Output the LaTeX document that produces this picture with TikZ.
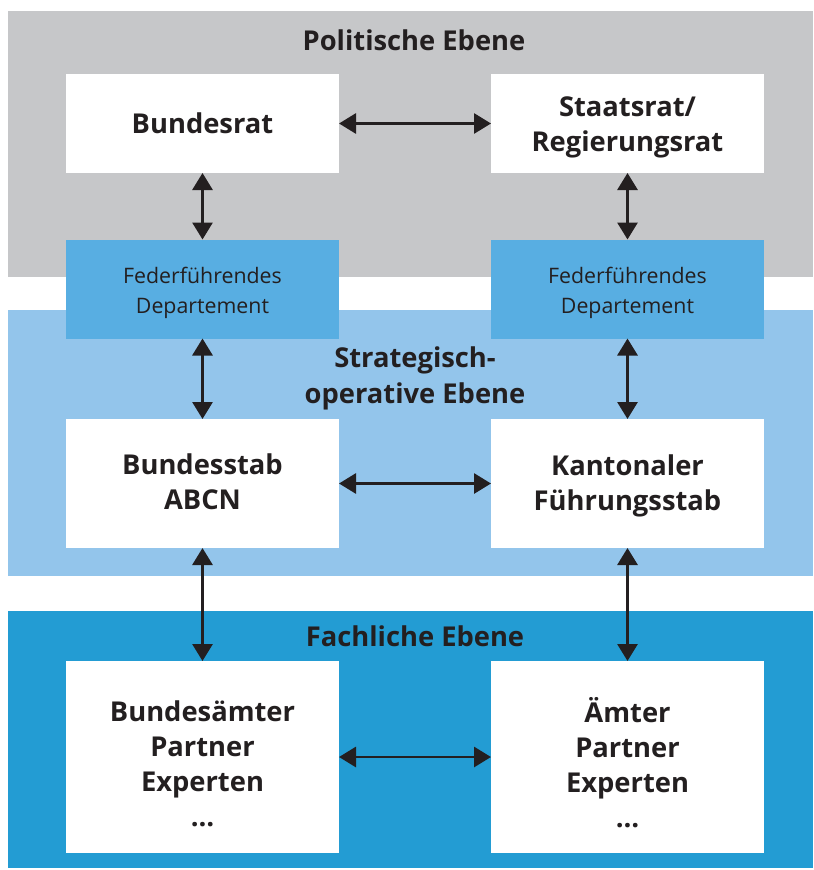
\documentclass[tikz,border=0pt]{standalone}
\usepackage{fontspec}
\setmainfont{Open Sans}
\usetikzlibrary{arrows.meta}
\definecolor{grayband}{HTML}{C6C7C9}
\definecolor{lightband}{HTML}{93C5EB}
\definecolor{darkband}{HTML}{239CD3}
\definecolor{midbox}{HTML}{58AEE2}
\definecolor{ink}{HTML}{231F20}
\tikzset{
  wbox/.style={fill=white, draw=none, inner sep=0pt, outer sep=0pt, minimum width=204.75pt},
  fedbox/.style={fill=midbox, draw=none, inner sep=0pt, outer sep=0pt, minimum width=204.75pt, minimum height=74.25pt},
  btext/.style={align=center, text=ink, inner sep=0pt, font=\fontsize{20.5}{26.25}\selectfont\bfseries},
  ftext/.style={align=center, text=ink, inner sep=0pt, font=\fontsize{16}{22.5}\selectfont},
  bandlabel/.style={align=center, text=ink, font=\fontsize{20.5}{27}\selectfont\bfseries, inner sep=0pt},
  arr/.style={{Triangle[length=12.75pt,width=15pt]}-{Triangle[length=12.75pt,width=15pt]}, line width=2.2pt, draw=ink, fill=ink}
}
\begin{document}
\begin{tikzpicture}[x=0.75pt,y=-0.75pt]
\useasboundingbox (0,0) rectangle (813,870);
\fill[grayband] (8,11) rectangle (813,277);
\fill[lightband] (8,310) rectangle (813,576);
\fill[darkband] (8,611) rectangle (813,868);

\node[bandlabel] (tpol) at (414,40) {Politische Ebene};
\node[bandlabel] (tstr) at (415,378.5) {Strategisch-\\operative Ebene};
\node[bandlabel] (tfach) at (415,636) {Fachliche Ebene};

\node[wbox, minimum height=74.25pt] (bundesrat) at (202.5,123.5) {};
\node[wbox, minimum height=74.25pt] (staatsrat) at (627.5,123.5) {};
\node[fedbox] (fedl) at (202.5,289) {};
\node[fedbox] (fedr) at (627.5,289) {};
\node[wbox, minimum height=96.75pt] (bstab) at (202.5,483.5) {};
\node[wbox, minimum height=96.75pt] (kstab) at (627.5,483.5) {};
\node[wbox, minimum height=144pt] (baemter) at (202.5,757) {};
\node[wbox, minimum height=144pt] (aemter) at (627.5,757) {};

\node[btext] (t-bundesrat) at (202.5,123) {Bundesrat};
\node[btext] (t-staatsrat) at (627.5,127) {Staatsrat/\\Regierungsrat};
\node[ftext] (t-fedl) at (202.5,293) {Federführendes\\Departement};
\node[ftext] (t-fedr) at (627.5,293) {Federführendes\\Departement};
\node[btext] (t-bstab) at (202.5,481.5) {Bundesstab\\ABCN};
\node[btext] (t-kstab) at (627.5,485.5) {Kantonaler\\Führungsstab};
\node[btext] (t-baemter) at (202.5,764) {Bundesämter\\Partner\\Experten\\…};
\node[btext] (t-aemter) at (627.5,763) {Ämter\\Partner\\Experten\\…};

\draw[arr] (bundesrat) -- (staatsrat);
\draw[arr] (bstab) -- (kstab);
\draw[arr] (baemter) -- (aemter);
\draw[arr] (bundesrat) -- (fedl);
\draw[arr] (staatsrat) -- (fedr);
\draw[arr] (fedl) -- (bstab);
\draw[arr] (fedr) -- (kstab);
\draw[arr] (bstab) -- (baemter);
\draw[arr] (kstab) -- (aemter);
\end{tikzpicture}
\end{document}
